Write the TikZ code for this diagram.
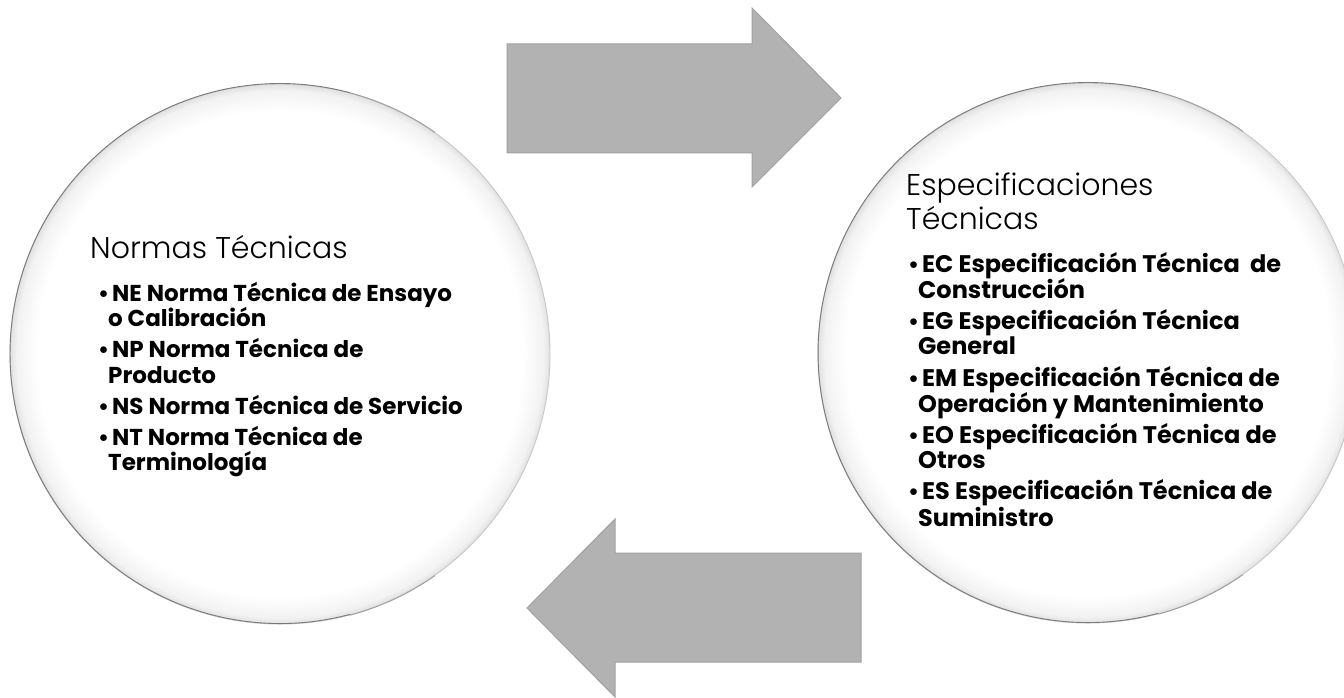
\documentclass[tikz,border=0pt]{standalone}
\usepackage{fontspec}
\setmainfont{Poppins}
\newfontfamily\lightfont{Poppins Light}
\pgfdeclareradialshading{glass}{\pgfpointorigin}{color(0bp)=(white); color(22.5bp)=(white); color(24.4bp)=(black!5); color(25bp)=(black!12); color(50bp)=(black!12)}
\tikzset{
  bubble/.style={circle, minimum size=540pt, inner sep=0pt, draw=black!22, line width=0.9pt, shade, shading=glass},
  rimdark/.style={draw=black!52, line width=0.9pt},
  rimmid/.style={draw=black!38, line width=0.9pt},
  bigarrow/.style={fill=black!30, draw=black!37, line width=1pt, line join=miter},
  heading/.style={anchor=base west, inner sep=0pt, font=\lightfont\fontsize{30}{36}\selectfont},
  litem/.style={anchor=base west, inner sep=0pt, font=\bfseries\fontsize{23}{27}\selectfont},
  ritem/.style={anchor=base west, inner sep=0pt, font=\bfseries\fontsize{24}{28}\selectfont},
  bul/.style={anchor=base west, inner sep=0pt, font=\bfseries\fontsize{22}{27}\selectfont}
}
\begin{document}
\begin{tikzpicture}[x=1pt,y=-1pt]
\useasboundingbox (0,0) rectangle (1344,698);
\clip (0,0) rectangle (1344,698);
\fill[white] (0,0) rectangle (1344,698);
% circles
\node[bubble] (left) at (280,354) {};
\node[bubble] (right) at (1088,353) {};
\foreach \c in {left,right}{
  \draw[rimmid] (\c.55) arc[start angle=55, end angle=75, radius=270pt];
  \draw[rimdark] (\c.75) arc[start angle=75, end angle=285, radius=270pt];
  \draw[rimmid] (\c.285) arc[start angle=285, end angle=305, radius=270pt];
}
% arrows
\draw[bigarrow] (507,44) -- (752,44) -- (752,8) -- (841,98) -- (752,187) -- (752,153) -- (507,153) -- cycle;
\draw[bigarrow] (861,553) -- (615,553) -- (615,519) -- (527,608) -- (615,697) -- (615,662) -- (861,662) -- cycle;
% left texts
\node[heading] (lt) at (90,258) {Normas Técnicas};
\node[bul] (lb1) at (98,301) {\textbullet};
\node[litem] (l1a) at (112,301) {NE Norma Técnica de Ensayo};
\node[litem] (l1b) at (108,326) {o Calibración};
\node[bul] (lb2) at (98,357) {\textbullet};
\node[litem] (l2a) at (112,357) {NP Norma Técnica de};
\node[litem] (l2b) at (108,383) {Producto};
\node[bul] (lb3) at (98,414) {\textbullet};
\node[litem] (l3a) at (112,414) {NS Norma Técnica de Servicio};
\node[bul] (lb4) at (98,445) {\textbullet};
\node[litem] (l4a) at (112,445) {NT Norma Técnica de};
\node[litem] (l4b) at (108,470) {Terminología};
% right texts
\node[heading] (rt1) at (906,195) {Especificaciones};
\node[heading] (rt2) at (906,229) {Técnicas};
\node[bul] (rb1) at (908,272) {\textbullet};
\node[ritem] (r1a) at (922,272) {EC Especificación Técnica~ de};
\node[ritem] (r1b) at (918,298) {Construcción};
\node[bul] (rb2) at (908,329) {\textbullet};
\node[ritem] (r2a) at (922,329) {EG Especificación Técnica};
\node[ritem] (r2b) at (918,354) {General};
\node[bul] (rb3) at (908,386) {\textbullet};
\node[ritem] (r3a) at (922,386) {EM Especificación Técnica de};
\node[ritem] (r3b) at (918,412) {Operación y Mantenimiento};
\node[bul] (rb4) at (908,443) {\textbullet};
\node[ritem] (r4a) at (922,443) {EO Especificación Técnica de};
\node[ritem] (r4b) at (918,468) {Otros};
\node[bul] (rb5) at (908,499) {\textbullet};
\node[ritem] (r5a) at (922,499) {ES Especificación Técnica de};
\node[ritem] (r5b) at (918,526) {Suministro};
\end{tikzpicture}
\end{document}
